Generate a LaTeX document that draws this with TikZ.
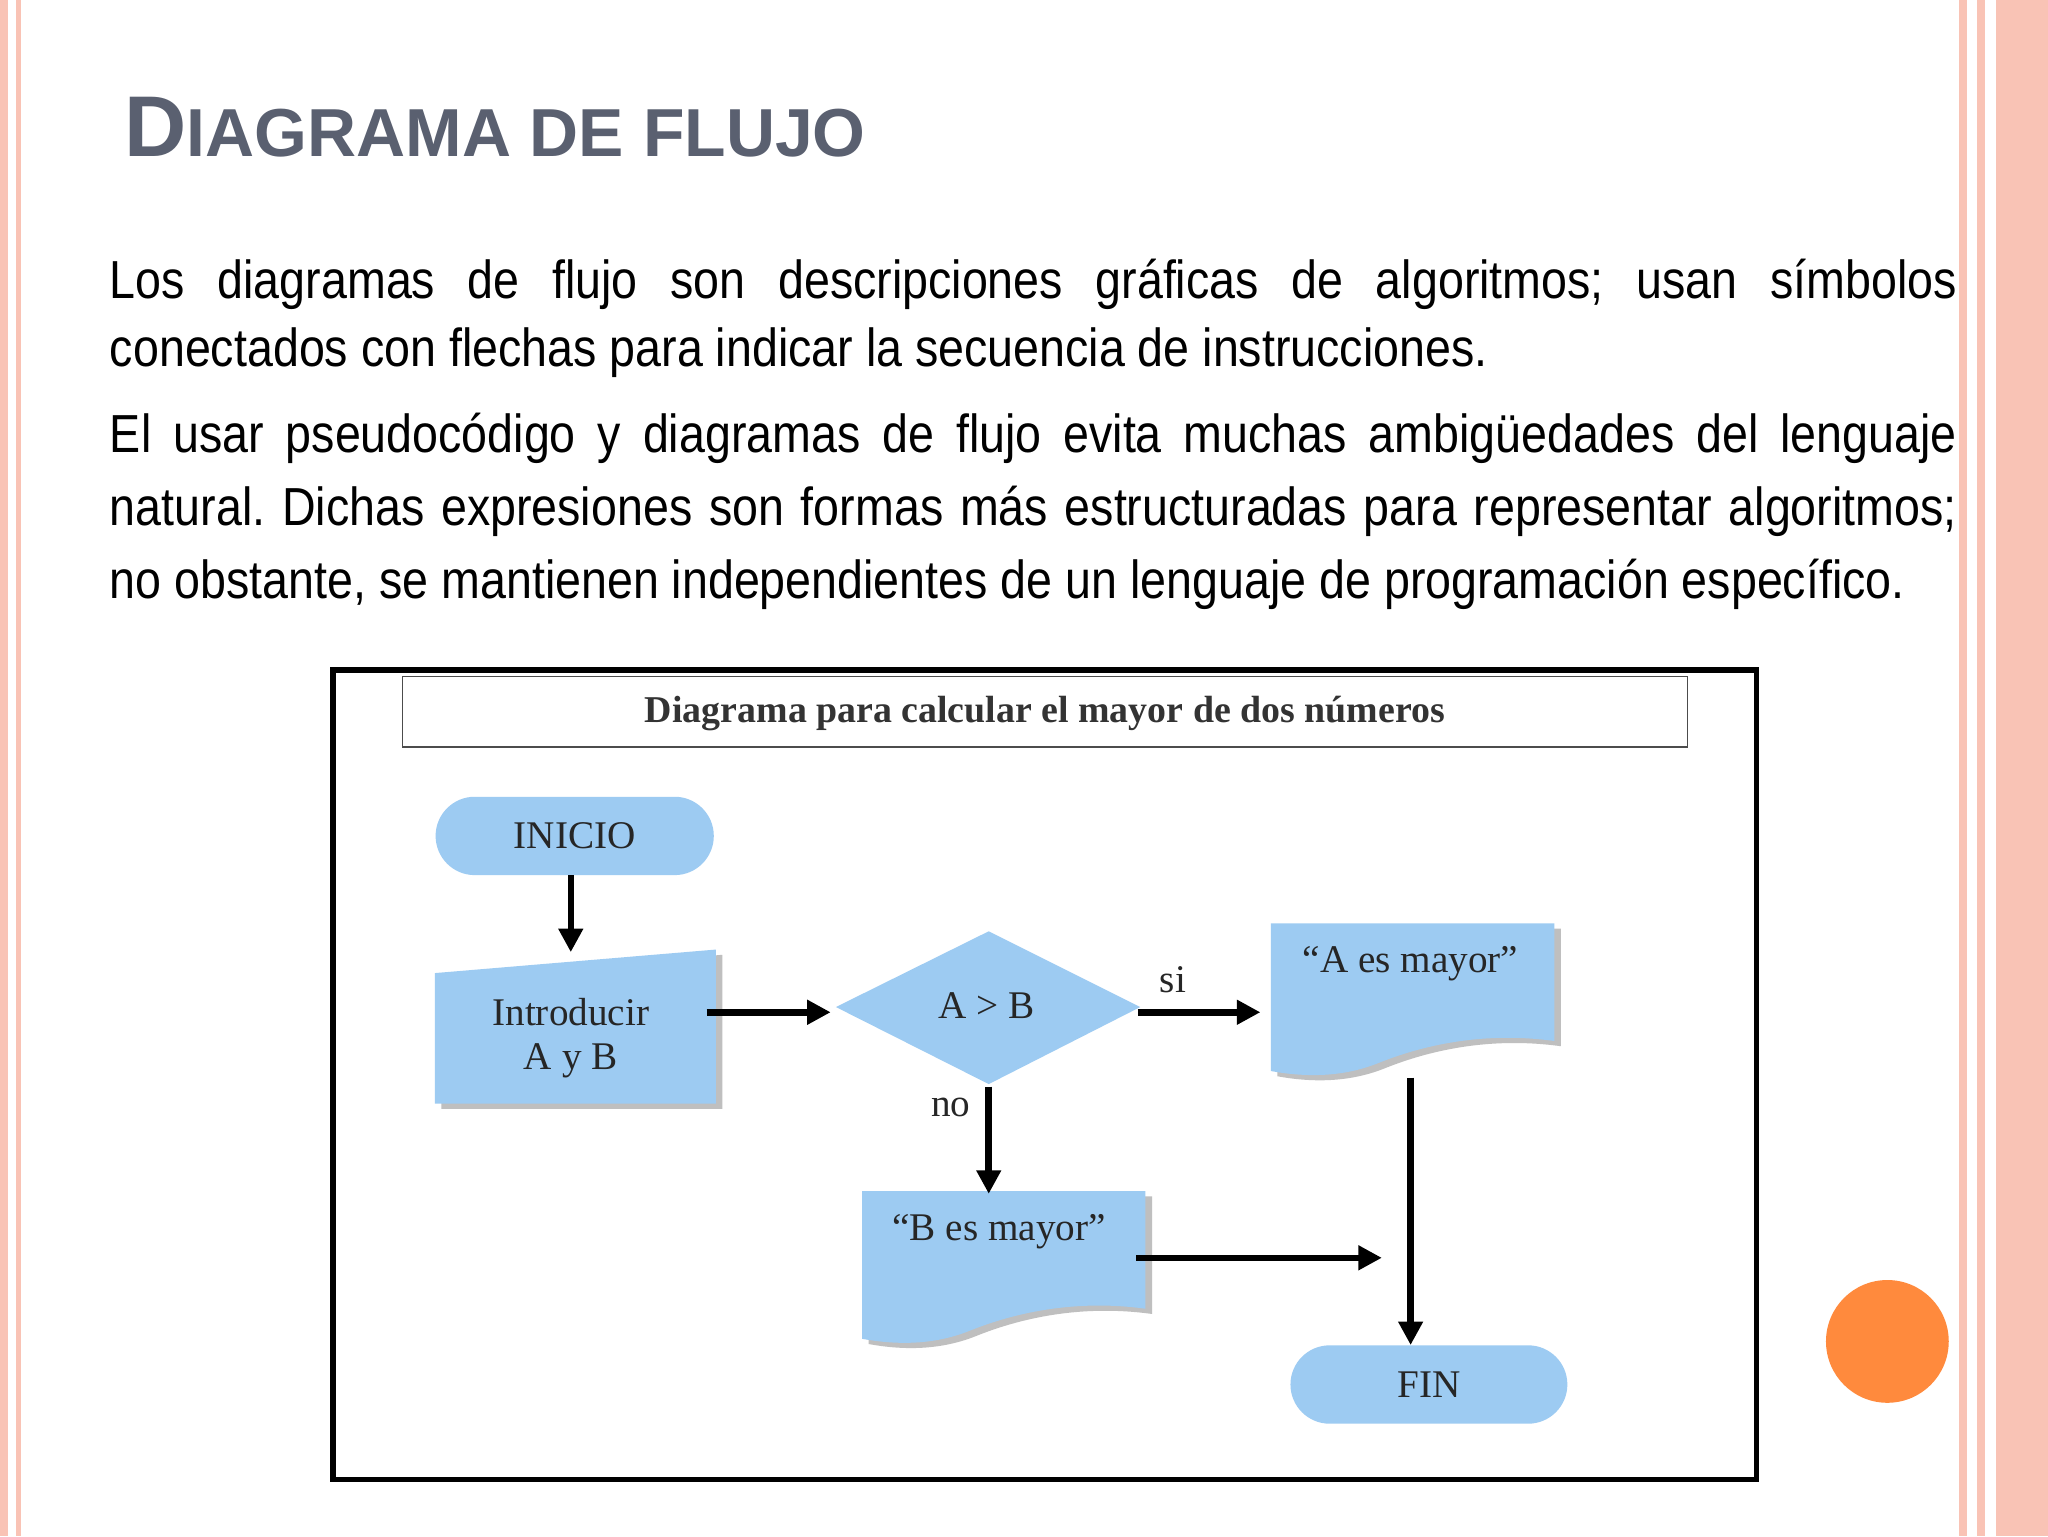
\documentclass[tikz,border=0pt]{standalone}
\usepackage{fontspec}
\setmainfont{Liberation Serif}
\newfontfamily\narrowsans[FakeStretch=0.87]{Liberation Sans}
\newfontfamily\titlesans{Liberation Sans}
\usetikzlibrary{shapes.geometric,arrows.meta}
\definecolor{fblue}{HTML}{9DCBF2}
\definecolor{pinkl}{HTML}{F9C3B5}
\definecolor{orng}{HTML}{FF8A3D}
\definecolor{tgray}{HTML}{5A6070}
\tikzset{
 fill shape/.style={fill=fblue,draw=none},
 arr/.style={line width=5pt,-{Triangle[length=18pt,width=18pt]}},
 lbl/.style={font=\fontsize{30}{34}\selectfont, text=black!85}
}
\frenchspacing
\begin{document}
\begin{tikzpicture}[x=1pt,y=-1pt]
\useasboundingbox (0,0) rectangle (1568,1176);
\fill[white] (0,0) rectangle (1568,1176);
% borders
\fill[pinkl] (0,0) rectangle (6,1176);
\fill[pinkl] (12,0) rectangle (16,1176);
\fill[pinkl] (1500,0) rectangle (1506,1176);
\fill[pinkl] (1514,0) rectangle (1520,1176);
\fill[pinkl] (1528,0) rectangle (1568,1176);
\fill[orng] (1445,1027) circle (47);
% title
\node[anchor=base west,text=tgray,inner sep=0,font=\titlesans\bfseries] (title) at (95,120)
 {\fontsize{66}{66}\selectfont D\fontsize{52}{52}\selectfont IAGRAMA DE FLUJO};
% paragraphs
\node[anchor=north west,inner sep=0,text width=1414pt,align=justify,font=\narrowsans\fontsize{41}{52}\selectfont] (p1) at (84,198)
 {\frenchspacing Los diagramas de flujo son descripciones gráficas de algoritmos; usan símbolos\linebreak conectados con flechas para indicar la secuencia de instrucciones.};
\node[anchor=north west,inner sep=0,text width=1414pt,align=justify,font=\narrowsans\fontsize{41}{56}\selectfont] (p2) at (84,316)
 {\frenchspacing El usar pseudocódigo y diagramas de flujo evita muchas ambigüedades del lenguaje\linebreak natural. Dichas expresiones son formas más estructuradas para representar algoritmos;\linebreak no obstante, se mantienen independientes de un lenguaje de programación específico.};
% frame
\draw[line width=4pt] (255,513) rectangle (1345,1133);
\draw[line width=1.2pt,black!70] (308,518) rectangle (1292,572);
\node[font=\bfseries\fontsize{29}{32}\selectfont,text=black!80] (dt) at (800,546) {Diagrama para calcular el mayor de dos números};
% INICIO
\node[fill shape,rounded corners=30pt,minimum width=213pt,minimum height=60pt,lbl] (ini) at (440,640) {INICIO};
% input
\fill[black!25] (338,749) -- (553,731) -- (553,849) -- (338,849) -- cycle;
\fill[fblue] (333,745) -- (548,727) -- (548,845) -- (333,845) -- cycle;
\node[lbl,align=center] (inp) at (437,795) {Introducir\\A y B};
% diamond
\fill[fblue] (640,771) -- (757,713) -- (873,771) -- (757,830) -- cycle;
\node[lbl] (dec) at (755,770) {A > B};
\coordinate (decL) at (636,775);
\coordinate (decR) at (871,775);
\coordinate (decB) at (757,832);
% documents
\fill[black!25] (978,711) -- (1195,711) -- (1195,801) .. controls (1130,792) and (1080,810) .. (1060,818) .. controls (1030,830) and (1000,828) .. (978,824) -- cycle;
\fill[fblue] (973,707) -- (1190,707) -- (1190,797) .. controls (1125,788) and (1075,806) .. (1055,814) .. controls (1025,826) and (995,824) .. (973,820) -- cycle;
\node[lbl] (A) at (1080,738) {“A es mayor”};
\fill[black!25] (665,916) -- (882,916) -- (882,1006) .. controls (817,997) and (767,1015) .. (747,1023) .. controls (717,1035) and (687,1033) .. (665,1029) -- cycle;
\fill[fblue] (660,912) -- (877,912) -- (877,1002) .. controls (812,993) and (762,1011) .. (742,1019) .. controls (712,1031) and (682,1029) .. (660,1025) -- cycle;
\node[lbl] (B) at (765,943) {“B es mayor”};
% FIN
\node[fill shape,rounded corners=30pt,minimum width=212pt,minimum height=60pt,lbl] (fin) at (1094,1060) {FIN};
% arrows
\coordinate (Abot) at (1080,825);
\coordinate (Bout) at (870,963);
\coordinate (Bend) at (1058,963);
\coordinate (inpR) at (541,775);
\coordinate (Btop) at (757,914);
\draw[arr] (ini.south -| 437,0) -- (437,729);
\draw[arr] (inpR) -- (decL);
\draw[arr] (decR) -- (965,775);
\draw[arr] (decB) -- (Btop);
\draw[arr] (Bout) -- (Bend);
\draw[arr] (Abot) -- (fin.north -| 1080,0);
\node[lbl] (si) at (898,750) {si};
\node[lbl] (no) at (728,848) {no};
\end{tikzpicture}
\end{document}
